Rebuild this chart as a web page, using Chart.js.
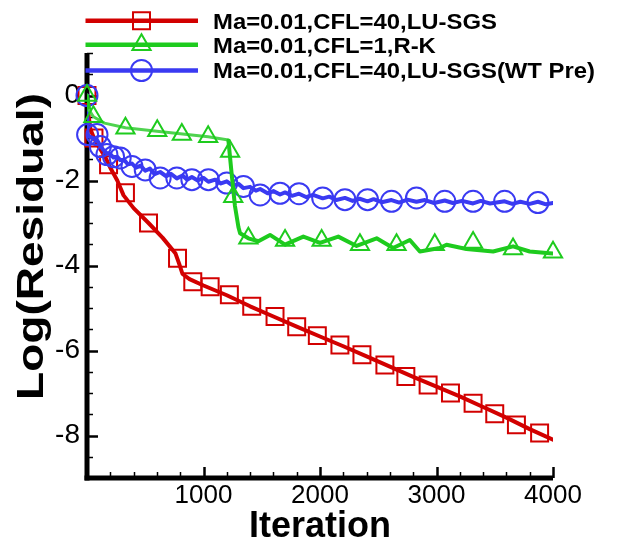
<!DOCTYPE html>
<html><head><meta charset="utf-8">
<script src="https://cdn.jsdelivr.net/npm/chart.js@4/dist/chart.umd.min.js"></script>
<style>html,body{margin:0;padding:0;background:#fff;}#wrap{width:631px;height:541px;}</style>
</head><body><div id="wrap"><canvas id="c" width="631" height="541"></canvas></div>
<script>
// ---------- data ----------
const seriesNames = ['Ma=0.01,CFL=40,LU-SGS', 'Ma=0.01,CFL=1,R-K', 'Ma=0.01,CFL=40,LU-SGS(WT Pre)'];

const redLineIter = [0, 15, 30, 60, 100, 157, 200, 260, 314, 400, 528, 650, 760, 790, 820, 880, 1000, 1200, 1400, 1600, 1800, 2000, 2200, 2400, 2600, 2800, 3000, 3200, 3400, 3600, 3800, 4000];
const redLineVal  = [0, -0.5, -0.8, -1.0, -1.2, -1.45, -1.7, -2.0, -2.35, -2.65, -3.0, -3.35, -3.72, -3.95, -4.2, -4.32, -4.47, -4.7, -4.96, -5.2, -5.44, -5.67, -5.9, -6.14, -6.38, -6.62, -6.85, -7.08, -7.33, -7.58, -7.85, -8.1];
const redMarkIter = [0, 60, 185, 330, 528, 777, 908, 1057, 1222, 1414, 1614, 1800, 1977, 2171, 2360, 2557, 2737, 2928, 3120, 3314, 3500, 3686, 3885];
const redMarkVal  = [0, -1.0, -1.63, -2.29, -3.0, -3.83, -4.38, -4.5, -4.69, -4.96, -5.2, -5.44, -5.65, -5.87, -6.1, -6.34, -6.61, -6.81, -7.0, -7.24, -7.49, -7.75, -7.94];

const greenLineIter = [0, 20, 55, 150, 330, 600, 800, 1040, 1200, 1214, 1240, 1270, 1300, 1314, 1385, 1471, 1571, 1700, 1857, 2000, 2157, 2314, 2486, 2628, 2771, 2857, 3028, 3086, 3257, 3486, 3657, 3800, 3971, 4000];
const greenLineVal  = [0, -0.35, -0.5, -0.65, -0.76, -0.84, -0.9, -0.97, -1.04, -1.06, -1.8, -2.6, -3.1, -3.24, -3.36, -3.43, -3.28, -3.51, -3.32, -3.47, -3.32, -3.54, -3.36, -3.59, -3.4, -3.67, -3.59, -3.51, -3.61, -3.67, -3.55, -3.67, -3.71, -3.72];
const greenMarkIter = [0, 55, 330, 603, 814, 1040, 1228, 1255, 1385, 1700, 2014, 2343, 2657, 2985, 3314, 3657, 4000];
const greenMarkVal  = [0, -0.5, -0.77, -0.83, -0.92, -0.97, -1.32, -2.38, -3.36, -3.41, -3.41, -3.51, -3.51, -3.51, -3.46, -3.61, -3.69];

const blueLineIter = [0, 3, 20, 50, 86, 114, 140, 171, 200, 228, 260, 285, 320, 350, 386, 420, 460, 500, 540, 580, 628, 680, 720, 771, 820, 860, 900, 950, 1000, 1042, 1100, 1150, 1200, 1250, 1300, 1343, 1400, 1450, 1486, 1550, 1600, 1657, 1700, 1760, 1820, 1880, 1940, 2023, 2080, 2140, 2214, 2280, 2340, 2408, 2460, 2530, 2614, 2680, 2750, 2828, 2900, 2980, 3071, 3140, 3220, 3314, 3380, 3460, 3585, 3650, 3720, 3800, 3871, 3940, 4000];
const blueLineVal  = [0, -0.9, -0.97, -1.0, -1.05, -1.18, -1.28, -1.36, -1.38, -1.46, -1.44, -1.52, -1.52, -1.62, -1.6, -1.7, -1.65, -1.77, -1.72, -1.85, -1.8, -1.9, -1.84, -1.95, -1.88, -1.98, -1.92, -2.0, -1.94, -2.03, -1.98, -2.07, -2.02, -2.12, -2.08, -2.18, -2.15, -2.24, -2.2, -2.3, -2.25, -2.33, -2.28, -2.36, -2.31, -2.39, -2.34, -2.42, -2.38, -2.46, -2.41, -2.48, -2.43, -2.49, -2.44, -2.51, -2.46, -2.52, -2.45, -2.5, -2.46, -2.53, -2.47, -2.53, -2.48, -2.54, -2.48, -2.54, -2.49, -2.55, -2.5, -2.55, -2.5, -2.56, -2.53];
const blueMarkIter = [0, 5, 86, 114, 171, 228, 285, 386, 500, 628, 771, 900, 1042, 1200, 1343, 1486, 1657, 1820, 2023, 2214, 2408, 2614, 2828, 3071, 3314, 3585, 3871];
const blueMarkVal  = [0, -0.92, -0.92, -1.2, -1.39, -1.44, -1.47, -1.67, -1.75, -1.94, -1.94, -1.98, -1.98, -2.06, -2.14, -2.34, -2.3, -2.31, -2.41, -2.45, -2.45, -2.49, -2.41, -2.49, -2.49, -2.49, -2.52];

const xTickLabels = [1000, 2000, 3000, 4000];
const yTickLabels = [0, -2, -4, -6, -8];
const xAxisTitle = 'Iteration';
const yAxisTitle = 'Log(Residual)';

// ---------- styles ----------
const RED = '#d20000', GREEN = '#1ecb1e', GREEN_LIGHT = '#4fd34f', BLUE = '#3a3af2';
const styles = [
  {color: RED, pointStyle: 'rect', radius: 12},
  {color: GREEN, pointStyle: 'triangle', radius: 10.5},
  {color: BLUE, pointStyle: 'circle', radius: 10.5}
];
const pts = (xs, ys) => xs.map((v, i) => ({x: v, y: ys[i]}));

function lineDs(xs, ys, st, order, extra) {
  return Object.assign({data: pts(xs, ys), showLine: true, borderColor: st.color, borderWidth: 4,
    pointRadius: 0, fill: false, tension: 0, borderJoinStyle: 'round', borderCapStyle: 'round', order}, extra || {});
}
function markDs(xs, ys, st, order) {
  return {data: pts(xs, ys), showLine: false, pointStyle: st.pointStyle, pointRadius: st.radius,
    pointBorderColor: st.color, pointBackgroundColor: 'rgba(0,0,0,0)', pointBorderWidth: 2,
    clip: false, order};
}

const FONT = '"Liberation Sans", Arial, sans-serif';

const framePlugin = {
  id: 'frame',
  beforeDatasetsDraw(chart) {
    const {ctx, chartArea: a, scales: {x, y}} = chart;
    ctx.save();
    ctx.strokeStyle = '#000';
    for (let v = -9; v <= 1.001; v += 0.5) {
      const py = Math.round(y.getPixelForValue(v)) + 0.5;
      const major = Math.abs(v % 2) < 1e-6;
      ctx.lineWidth = major ? 2.5 : 1.5;
      ctx.beginPath(); ctx.moveTo(a.left, py); ctx.lineTo(a.left + (major ? 11 : 6), py); ctx.stroke();
    }
    for (let v = 0; v <= 4000; v += 200) {
      const px = Math.round(x.getPixelForValue(v)) + 0.5;
      const major = v % 1000 === 0;
      ctx.lineWidth = major ? 2.5 : 1.5;
      ctx.beginPath(); ctx.moveTo(px, a.bottom); ctx.lineTo(px, a.bottom - (major ? 11 : 6)); ctx.stroke();
    }
    ctx.lineWidth = 5;
    ctx.lineCap = 'butt';
    ctx.beginPath(); ctx.moveTo(a.left, a.top); ctx.lineTo(a.left, a.bottom + 2.5); ctx.stroke();
    ctx.beginPath(); ctx.moveTo(a.left - 2.5, a.bottom); ctx.lineTo(a.right, a.bottom); ctx.stroke();
    ctx.restore();
  },
  afterDraw(chart) {
    const {ctx} = chart;
    ctx.save();
    ctx.fillStyle = '#000';
    ctx.font = 'bold 36px ' + FONT;
    ctx.textAlign = 'center'; ctx.textBaseline = 'alphabetic';
    ctx.fillText(xAxisTitle, 320, 537);
    ctx.save();
    ctx.translate(43, 246.5);
    ctx.rotate(-Math.PI / 2);
    ctx.font = 'bold 36px ' + FONT;
    const w = ctx.measureText(yAxisTitle).width;
    ctx.scale(307 / w, 1);
    ctx.fillText(yAxisTitle, 0, 0);
    ctx.restore();
    const rowsY = [20.7, 44.8, 70.5];
    ctx.font = 'bold 22px ' + FONT;
    const sx = 382 / ctx.measureText(seriesNames[2]).width;
    seriesNames.forEach((name, i) => {
      const st = styles[i], ly = rowsY[i];
      ctx.strokeStyle = st.color; ctx.lineWidth = 4.5; ctx.lineCap = 'butt';
      ctx.beginPath(); ctx.moveTo(85.5, ly); ctx.lineTo(198, ly); ctx.stroke();
      ctx.fillStyle = 'rgba(0,0,0,0)';
      ctx.lineWidth = 2;
      Chart.helpers.drawPoint(ctx, {pointStyle: st.pointStyle, radius: st.radius, rotation: 0, borderWidth: 2}, 141.5, ly);
      ctx.save();
      ctx.fillStyle = '#000';
      ctx.textAlign = 'left'; ctx.textBaseline = 'alphabetic';
      ctx.translate(213, ly + 7.8);
      ctx.scale(sx, 1);
      ctx.fillText(name, 0, 0);
      ctx.restore();
    });
    ctx.restore();
  }
};

new Chart(document.getElementById('c'), {
  type: 'scatter',
  data: {datasets: [
    markDs(greenMarkIter, greenMarkVal, styles[1], 0),
    lineDs(greenLineIter, greenLineVal, styles[1], 1, {segment: {
      borderWidth: c => (c.p1.parsed.x <= 1214 && c.p0.parsed.x >= 20 ? 3 : 4),
      borderColor: c => (c.p1.parsed.x <= 1214 && c.p0.parsed.x >= 20 ? GREEN_LIGHT : GREEN)
    }}),
    markDs(blueMarkIter, blueMarkVal, styles[2], 2),
    lineDs(blueLineIter, blueLineVal, styles[2], 3),
    markDs(redMarkIter, redMarkVal, styles[0], 4),
    lineDs(redLineIter, redLineVal, styles[0], 5)
  ]},
  options: {
    responsive: false, animation: false, devicePixelRatio: 1, events: [],
    layout: {padding: {top: 53, right: 78, left: 0, bottom: 0}},
    plugins: {legend: {display: false}, tooltip: {enabled: false}, title: {display: false}},
    scales: {
      x: {type: 'linear', min: 0, max: 4000,
        grid: {display: false, drawTicks: false}, border: {display: false},
        afterBuildTicks: s => { s.ticks = xTickLabels.map(v => ({value: v})); },
        afterFit: s => { s.height = 63; },
        ticks: {autoSkip: false, maxRotation: 0, padding: 2, color: '#000', font: {family: FONT, size: 26},
          callback: v => String(v)}
      },
      y: {type: 'linear', min: -9, max: 1,
        grid: {display: false, drawTicks: false}, border: {display: false},
        afterBuildTicks: s => { s.ticks = yTickLabels.map(v => ({value: v})); },
        afterFit: s => { s.width = 87; },
        ticks: {autoSkip: false, padding: 7, color: '#000', font: {family: FONT, size: 28},
          callback: v => String(v)}
      }
    }
  },
  plugins: [framePlugin]
});
</script></body></html>
